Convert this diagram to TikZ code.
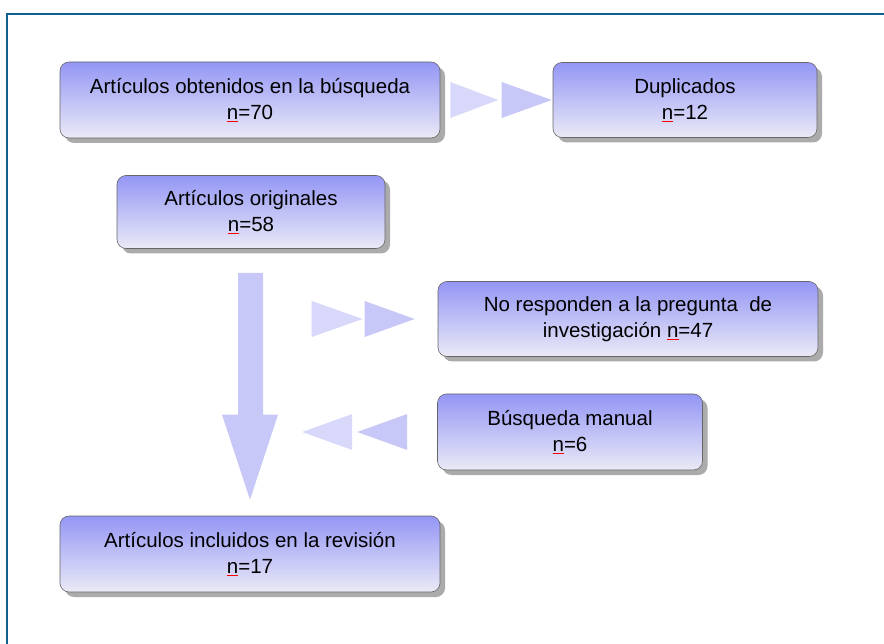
\documentclass[tikz,border=0pt]{standalone}
\usepackage{fontspec}
\setmainfont{Liberation Sans}
\usetikzlibrary{positioning,shadows,calc}

\definecolor{marco}{RGB}{16,96,144}
\definecolor{cajaarriba}{RGB}{148,150,245}
\definecolor{cajaabajo}{RGB}{234,234,246}
\definecolor{flechaclara}{RGB}{216,216,250}
\definecolor{flechaosc}{RGB}{200,200,248}
% n subrayada en rojo
\newcommand{\enre}{\rlap{\color{red}\rule[-2.8pt]{0.56em}{0.8pt}}n}

\begin{document}
\begin{tikzpicture}[
    x=1pt, y=-1pt,
    caja/.style={draw=black!60, line width=0.6pt, rounded corners=9pt,
        top color=cajaarriba, bottom color=cajaabajo, align=center,
        inner sep=0pt, font=\fontsize{20.5}{26}\selectfont,
        drop shadow={shadow xshift=5pt, shadow yshift=-5pt, fill=black!33, opacity=1}},
    chev1/.style={fill=flechaclara, draw=none},
    chev2/.style={fill=flechaosc, draw=none},
    bajada/.style={fill=flechaosc, draw=none}
]
    \useasboundingbox (0,0) rectangle (884,644);
    % Marco
    \draw[marco, line width=2.5pt] (7,644) -- (7,14) -- (884,14);
    % Cajas
    \node[caja, minimum width=380, minimum height=76] (busq) at (250,100)
        {Artículos obtenidos en la búsqueda\\\enre=70};
    \node[caja, minimum width=264, minimum height=75] (dup) at (685,100)
        {Duplicados\\\enre=12};
    \node[caja, minimum width=268, minimum height=73] (orig) at (251,212)
        {Artículos originales\\\enre=58};
    \node[caja, minimum width=380, minimum height=75] (noresp) at (628,319)
        {No responden a la pregunta\ \ de\\investigación \enre=47};
    \node[caja, minimum width=265, minimum height=76] (manual) at (570,432)
        {Búsqueda manual\\\enre=6};
    \node[caja, minimum width=380, minimum height=76] (incl) at (250,554)
        {Artículos incluidos en la revisión\\\enre=17};
    % Flechas dobles
    \fill[chev1] ($(busq.east)+(10,-18)$) -- ++(48,18) -- ++(-48,18) -- cycle;
    \fill[chev2] ($(dup.west)+(-51,-18)$) -- ++(50,18) -- ++(-50,18) -- cycle;
    \fill[chev1] ($(noresp.west)+(-126,-18)$) -- ++(51,18) -- ++(-51,18) -- cycle;
    \fill[chev2] ($(noresp.west)+(-73,-18)$) -- ++(50,18) -- ++(-50,18) -- cycle;
    \fill[chev1] ($(manual.west)+(-85,-18)$) -- ++(-50,18) -- ++(50,18) -- cycle;
    \fill[chev2] ($(manual.west)+(-30,-18)$) -- ++(-50,18) -- ++(50,18) -- cycle;
    % Flecha vertical
    \fill[bajada] ($(orig.south)+(-13,24)$) -- ++(25,0) |- ($(incl.north)+(28,-101)$)
        -- ($(incl.north)+(0,-16)$) -- ($(incl.north)+(-28,-101)$) -| cycle;
\end{tikzpicture}
\end{document}
